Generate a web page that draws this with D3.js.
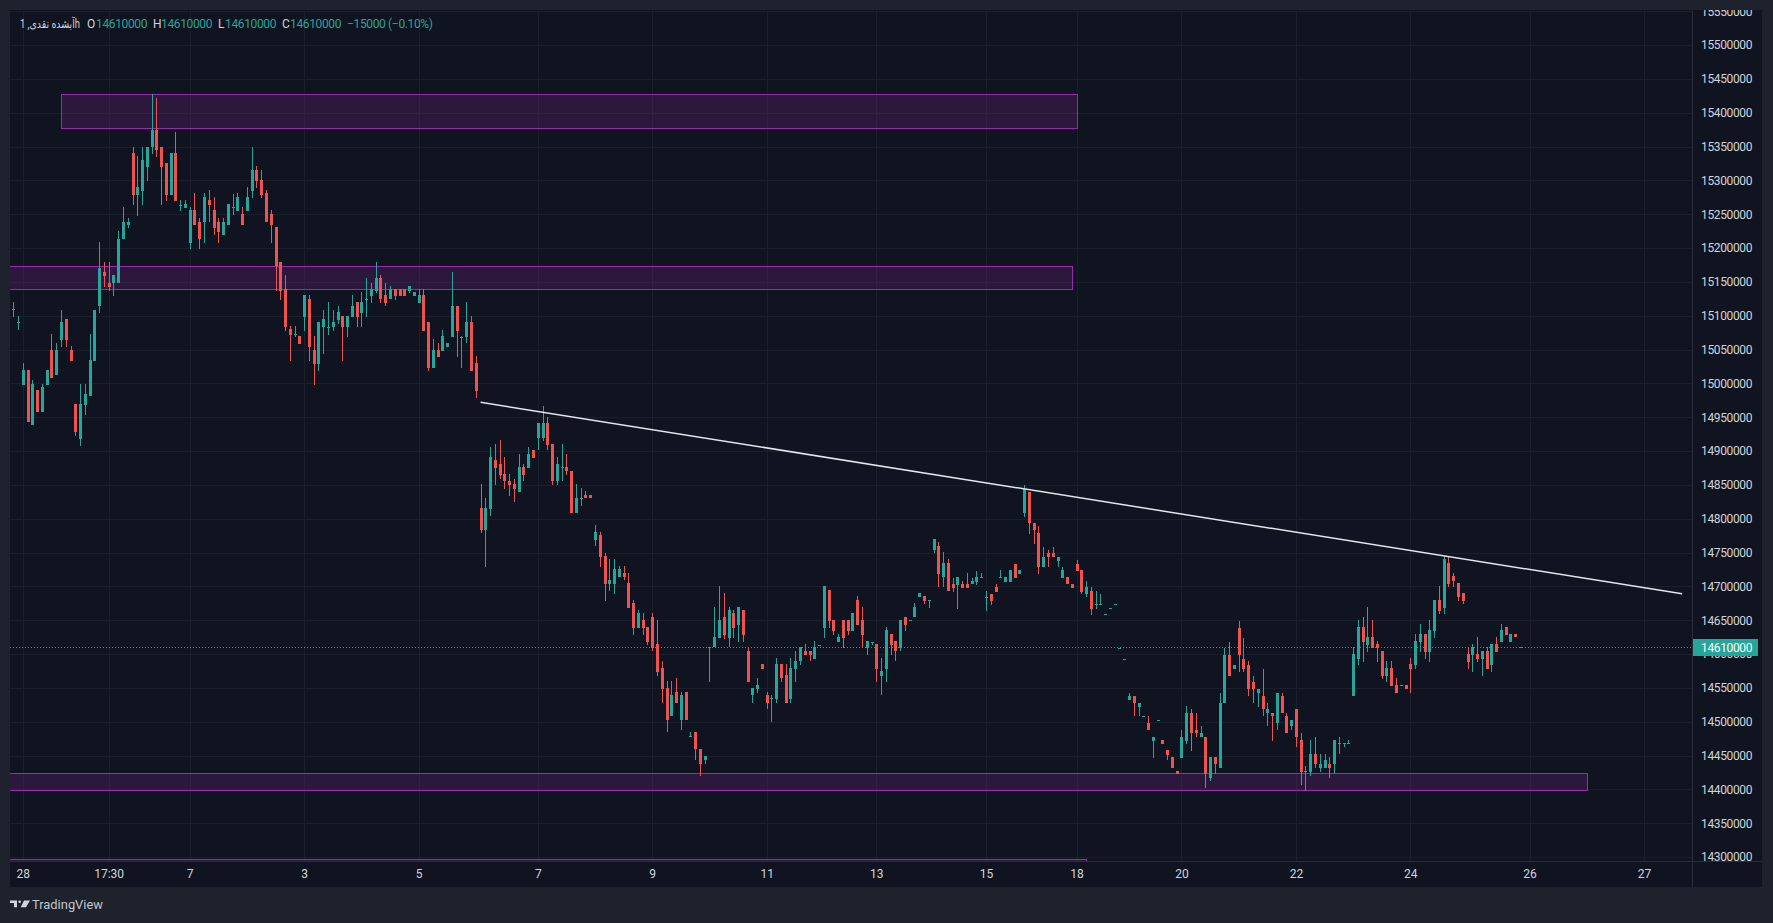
<!DOCTYPE html>
<html><head><meta charset="utf-8">
<script src="https://cdn.jsdelivr.net/npm/d3@7"></script>
<style>
html,body{margin:0;padding:0;background:#1e222d;overflow:hidden;}
svg{display:block;}
</style></head><body>
<svg id="c" width="1773" height="923"></svg>
<script>
// ---- DATA (1h candles) ----
const opens = [
15109000,15090000,14997000,15019000,14938000,14990000,14958000,14997000,15049000,15013000,
15064000,15095000,15049000,14969000,14917000,14968000,14982000,15033000,15114000,15164000,
15149000,15148000,15148000,15213000,15234000,15340000,15279000,15284000,15319000,15349000,
15375000,15350000,15325000,15279000,15340000,15264000,15259000,15208000,15256000,15239000,
15238000,15271000,15256000,15239000,15219000,15234000,15260000,15255000,15250000,15255000,
15284000,15315000,15300000,15281000,15250000,15231000,15180000,15139000,15080000,15073000,
15070000,15098000,15124000,15049000,15028000,15083000,15083000,15083000,15093000,15099000,
15083000,15098000,15120000,15104000,15124000,15129000,15137000,15155000,15130000,15124000,
15139000,15139000,15139000,15137000,15129000,15119000,15130000,15090000,15023000,15049000,
15048000,15054000,15069000,15115000,15069000,15069000,15090000,15030000,14816000,14783000,
14814000,14886000,14881000,14866000,14856000,14851000,14840000,14876000,14875000,14902000,
14919000,14919000,14941000,14910000,14855000,14876000,14876000,14870000,14809000,14831000,
14835000,14835000,14769000,14776000,14745000,14703000,14703000,14714000,14720000,14705000,
14675000,14638000,14650000,14640000,14655000,14615000,14579000,14550000,14509000,14544000,
14503000,14544000,14478000,14485000,14460000,14444000,14609000,14610000,14624000,14655000,
14624000,14661000,14643000,14665000,14604000,14539000,14548000,14585000,14539000,14535000,
14534000,14585000,14569000,14534000,14578000,14589000,14604000,14604000,14593000,14614000,
14638000,14695000,14650000,14618000,14650000,14650000,14634000,14680000,14650000,14609000,
14618000,14615000,14568000,14578000,14630000,14619000,14609000,14655000,14650000,14654000,
14684000,14686000,14680000,14754000,14760000,14714000,14735000,14703000,14702000,14703000,
14703000,14703000,14707000,14713000,14684000,14689000,14699000,14713000,14707000,14707000,
14733000,14718000,14808000,14839000,14793000,14779000,14728000,14749000,14749000,14738000,
14713000,14714000,14703000,14733000,14724000,14688000,14693000,14674000,14674000,14659000,
14668000,14674000,14609000,14592000,14532000,14538000,14522000,14508000,14498000,14472000,
14502000,14473000,14458000,14448000,14427000,14447000,14472000,14513000,14488000,14477000,
14478000,14417000,14448000,14432000,14527000,14599000,14578000,14639000,14592000,14584000,
14559000,14542000,14538000,14513000,14513000,14498000,14538000,14508000,14493000,14518000,
14473000,14427000,14426000,14452000,14432000,14432000,14437000,14437000,14468000,14468000,
14468000,14538000,14592000,14640000,14613000,14625000,14615000,14604000,14567000,14579000,
14554000,14554000,14554000,14585000,14584000,14618000,14629000,14603000,14634000,14680000,
14668000,14734000,14715000,14705000,14690000,14600000,14598000,14600000,14592000,14604000,
14584000,14615000,14618000,14640000,14618000,14630000,14610000];
const highs = [
15120000,15099000,15030000,15019000,15005000,14990000,14999000,15019000,15073000,15059000,
15109000,15095000,15055000,14969000,14999000,14999000,15073000,15109000,15209000,15180000,
15180000,15160000,15225000,15260000,15245000,15350000,15336000,15350000,15350000,15427000,
15422000,15350000,15325000,15340000,15371000,15271000,15271000,15261000,15281000,15245000,
15281000,15285000,15275000,15245000,15245000,15265000,15280000,15281000,15261000,15290000,
15350000,15321000,15315000,15285000,15256000,15231000,15180000,15160000,15084000,15084000,
15070000,15130000,15130000,15070000,15090000,15109000,15120000,15109000,15115000,15099000,
15099000,15130000,15120000,15135000,15155000,15149000,15180000,15160000,15149000,15144000,
15139000,15139000,15139000,15144000,15135000,15139000,15139000,15090000,15065000,15059000,
15079000,15059000,15164000,15115000,15070000,15120000,15099000,15040000,14851000,14831000,
14906000,14910000,14916000,14891000,14866000,14859000,14896000,14881000,14906000,14902000,
14941000,14967000,14950000,14910000,14891000,14910000,14896000,14870000,14851000,14845000,
14841000,14835000,14791000,14780000,14750000,14740000,14740000,14730000,14730000,14720000,
14680000,14665000,14661000,14640000,14661000,14650000,14590000,14560000,14560000,14565000,
14544000,14544000,14484000,14485000,14460000,14449000,14611000,14670000,14701000,14690000,
14670000,14665000,14670000,14665000,14609000,14550000,14565000,14585000,14544000,14539000,
14594000,14585000,14585000,14594000,14604000,14610000,14615000,14604000,14619000,14614000,
14701000,14695000,14650000,14630000,14650000,14650000,14661000,14686000,14670000,14619000,
14618000,14615000,14594000,14640000,14630000,14619000,14650000,14655000,14650000,14675000,
14690000,14686000,14680000,14770000,14766000,14751000,14740000,14713000,14714000,14708000,
14719000,14713000,14723000,14719000,14693000,14689000,14704000,14724000,14714000,14724000,
14733000,14724000,14850000,14839000,14793000,14789000,14758000,14754000,14758000,14743000,
14728000,14714000,14703000,14739000,14724000,14708000,14699000,14693000,14689000,14659000,
14668000,14674000,14609000,14592000,14543000,14538000,14527000,14508000,14508000,14478000,
14502000,14473000,14458000,14448000,14427000,14488000,14523000,14518000,14513000,14494000,
14478000,14448000,14448000,14543000,14609000,14618000,14584000,14649000,14624000,14589000,
14568000,14548000,14578000,14527000,14513000,14543000,14543000,14513000,14502000,14518000,
14483000,14434000,14473000,14478000,14452000,14452000,14448000,14473000,14478000,14468000,
14473000,14610000,14650000,14655000,14669000,14650000,14619000,14604000,14589000,14589000,
14564000,14554000,14554000,14594000,14629000,14644000,14629000,14650000,14680000,14700000,
14745000,14745000,14720000,14705000,14690000,14610000,14615000,14625000,14604000,14610000,
14615000,14625000,14644000,14640000,14629000,14630000,14610000];
const lows = [
15098000,15079000,14997000,14943000,14938000,14958000,14958000,14997000,15008000,15013000,
15054000,15054000,15033000,14922000,14907000,14953000,14982000,15033000,15104000,15143000,
15137000,15129000,15148000,15213000,15230000,15263000,15248000,15263000,15299000,15339000,
15335000,15263000,15270000,15279000,15270000,15255000,15259000,15198000,15234000,15198000,
15208000,15238000,15219000,15208000,15219000,15234000,15249000,15255000,15234000,15255000,
15274000,15289000,15274000,15238000,15208000,15137000,15123000,15078000,15033000,15069000,
15058000,15078000,15033000,14998000,15018000,15043000,15072000,15078000,15088000,15033000,
15069000,15098000,15083000,15083000,15098000,15119000,15134000,15119000,15114000,15124000,
15123000,15129000,15129000,15134000,15129000,15119000,15078000,15018000,15023000,15039000,
15048000,15054000,15069000,15039000,15023000,15059000,15018000,14978000,14779000,14729000,
14804000,14850000,14859000,14844000,14834000,14825000,14840000,14855000,14875000,14890000,
14901000,14915000,14901000,14850000,14850000,14855000,14865000,14809000,14809000,14819000,
14830000,14830000,14759000,14729000,14679000,14693000,14689000,14714000,14709000,14668000,
14628000,14638000,14628000,14613000,14604000,14568000,14528000,14484000,14509000,14528000,
14488000,14503000,14478000,14444000,14419000,14437000,14559000,14610000,14624000,14622000,
14610000,14624000,14618000,14618000,14559000,14528000,14543000,14578000,14518000,14499000,
14528000,14559000,14528000,14528000,14559000,14584000,14599000,14589000,14593000,14614000,
14624000,14638000,14628000,14618000,14609000,14628000,14634000,14643000,14609000,14599000,
14613000,14559000,14539000,14559000,14599000,14589000,14604000,14634000,14650000,14654000,
14684000,14674000,14668000,14749000,14699000,14699000,14693000,14692000,14667000,14698000,
14698000,14703000,14702000,14713000,14663000,14673000,14692000,14713000,14707000,14707000,
14713000,14718000,14803000,14778000,14763000,14718000,14728000,14728000,14743000,14728000,
14713000,14703000,14698000,14723000,14688000,14684000,14658000,14667000,14674000,14659000,
14668000,14674000,14609000,14592000,14532000,14508000,14508000,14508000,14487000,14447000,
14502000,14467000,14443000,14432000,14422000,14447000,14467000,14457000,14478000,14477000,
14402000,14412000,14422000,14432000,14527000,14567000,14578000,14573000,14573000,14538000,
14527000,14522000,14508000,14493000,14472000,14488000,14513000,14483000,14488000,14462000,
14407000,14397000,14419000,14432000,14426000,14432000,14417000,14422000,14452000,14462000,
14468000,14538000,14584000,14588000,14603000,14609000,14588000,14563000,14558000,14553000,
14542000,14554000,14548000,14542000,14578000,14603000,14592000,14588000,14623000,14659000,
14659000,14699000,14699000,14678000,14674000,14578000,14573000,14588000,14567000,14578000,
14573000,14603000,14618000,14628000,14618000,14625000,14610000];
const closes = [
15110000,15090000,15019000,14943000,14999000,14958000,14995000,15019000,15008000,15049000,
15090000,15064000,15033000,14928000,14969000,14984000,15034000,15109000,15170000,15158000,
15143000,15160000,15214000,15239000,15239000,15279000,15290000,15330000,15350000,15375000,
15345000,15320000,15279000,15340000,15270000,15264000,15265000,15256000,15234000,15213000,
15275000,15264000,15229000,15223000,15239000,15265000,15260000,15275000,15234000,15275000,
15315000,15299000,15279000,15238000,15234000,15173000,15137000,15083000,15072000,15073000,
15058000,15130000,15054000,15028000,15090000,15095000,15083000,15090000,15105000,15083000,
15099000,15115000,15098000,15120000,15124000,15139000,15155000,15124000,15119000,15139000,
15129000,15129000,15129000,15144000,15135000,15130000,15078000,15023000,15049000,15039000,
15070000,15059000,15115000,15078000,15069000,15090000,15018000,14989000,14783000,14816000,
14891000,14875000,14865000,14855000,14850000,14844000,14876000,14865000,14896000,14890000,
14941000,14941000,14909000,14855000,14881000,14876000,14870000,14809000,14831000,14831000,
14830000,14830000,14780000,14744000,14703000,14709000,14726000,14726000,14714000,14668000,
14638000,14661000,14638000,14618000,14609000,14574000,14548000,14503000,14539000,14528000,
14539000,14503000,14479000,14459000,14437000,14449000,14611000,14625000,14650000,14628000,
14665000,14638000,14670000,14628000,14559000,14550000,14554000,14578000,14528000,14535000,
14585000,14564000,14528000,14579000,14590000,14610000,14599000,14599000,14610000,14614000,
14701000,14649000,14634000,14625000,14624000,14634000,14661000,14643000,14628000,14619000,
14618000,14578000,14575000,14636000,14613000,14604000,14650000,14643000,14650000,14670000,
14690000,14678000,14680000,14770000,14718000,14735000,14693000,14698000,14714000,14698000,
14698000,14708000,14714000,14714000,14684000,14678000,14692000,14714000,14714000,14724000,
14713000,14724000,14844000,14793000,14783000,14728000,14743000,14743000,14743000,14743000,
14724000,14703000,14698000,14723000,14692000,14699000,14667000,14674000,14674000,14659000,
14668000,14674000,14609000,14592000,14538000,14527000,14527000,14508000,14487000,14478000,
14502000,14467000,14451000,14432000,14422000,14478000,14513000,14483000,14483000,14483000,
14422000,14448000,14437000,14527000,14599000,14567000,14584000,14598000,14578000,14548000,
14548000,14548000,14518000,14518000,14508000,14543000,14513000,14483000,14502000,14477000,
14426000,14427000,14452000,14437000,14437000,14444000,14432000,14473000,14468000,14468000,
14468000,14600000,14640000,14618000,14625000,14609000,14609000,14567000,14579000,14553000,
14542000,14554000,14548000,14578000,14619000,14629000,14603000,14635000,14680000,14663000,
14740000,14703000,14708000,14684000,14678000,14588000,14610000,14592000,14604000,14578000,
14615000,14603000,14635000,14628000,14629000,14625000,14610000];

const priceTicks = [14300000,14350000,14400000,14450000,14500000,14550000,14600000,14650000,
  14700000,14750000,14800000,14850000,14900000,14950000,15000000,15050000,15100000,15150000,
  15200000,15250000,15300000,15350000,15400000,15450000,15500000,15550000];
const timeTickIndex = [2,20,37,61,85,110,134,158,181,204,223,245,269,293,318,342];
const timeTickLabels = ["28","17:30","7","3","5","7","9","11","13","15","18","20","22","24","26","27"];

// zones: bar index range & price range
const zoneFrom   = [10, -6, -6, -6];
const zoneTo     = [223, 222, 330, 225];
const zoneTop    = [15427000, 15173000, 14424000, 14297000];
const zoneBottom = [15377000, 15140000, 14399000, 14250000];

// trend line: [barIndex, price]
const trendStart = [98, 14972000];
const trendEnd   = [350, 14689000];

const symbolTitle = "آبشده نقدی, 1h";
const lastPrice = 14610000;
const changeText = "\u221215000 (\u22120.10%)";

// ---- LAYOUT ----
const W = 1773, H = 923;
const pane = {l:10, t:10, r:1762, b:887};
const plot = {l:10, t:10, r:1692, b:861};
const C = {outer:"#1e222d", bg:"#0f1420", grid:"#1a1f2b", sep:"#2a2e39", text:"#d1d4dc",
  up:"#26a69a", down:"#ef5350", zs:"#9c27b0", zf:"rgba(156,39,176,0.2)"};
const FONT = "Roboto, 'Noto Sans', 'DejaVu Sans', sans-serif";

const svg = d3.select("#c");
svg.append("rect").attr("width",W).attr("height",H).attr("fill",C.outer);
svg.append("rect").attr("x",pane.l).attr("y",pane.t).attr("width",pane.r-pane.l)
   .attr("height",pane.b-pane.t).attr("fill",C.bg);

const defs = svg.append("defs");
defs.append("clipPath").attr("id","pc").append("rect")
  .attr("x",plot.l).attr("y",plot.t).attr("width",plot.r-plot.l).attr("height",plot.b-plot.t);
defs.append("clipPath").attr("id","ac").append("rect")
  .attr("x",plot.r).attr("y",plot.t).attr("width",pane.r-plot.r).attr("height",plot.b-plot.t);
defs.append("clipPath").attr("id","tc").append("rect")
  .attr("x",plot.l).attr("y",plot.b).attr("width",plot.r-plot.l).attr("height",pane.b-plot.b);

const n = opens.length;
const x = d3.scaleLinear().domain([0, n-1]).range([13.3, 1520]);
const y = d3.scaleLinear().domain([14300000, 15500000]).range([857, 45]);

const g = svg.append("g").attr("clip-path","url(#pc)");

// grid
g.append("g").selectAll("line").data(priceTicks).join("line")
  .attr("x1",plot.l).attr("x2",plot.r)
  .attr("y1",d=>Math.round(y(d))+0.5).attr("y2",d=>Math.round(y(d))+0.5)
  .attr("stroke",C.grid).attr("stroke-width",1);
g.append("g").selectAll("line").data(timeTickIndex).join("line")
  .attr("y1",plot.t).attr("y2",plot.b)
  .attr("x1",d=>Math.round(x(d))+0.5).attr("x2",d=>Math.round(x(d))+0.5)
  .attr("stroke",C.grid).attr("stroke-width",1);

// zones
const zones = zoneFrom.map((f,i)=>({f, t:zoneTo[i], top:zoneTop[i], bot:zoneBottom[i]}));
g.append("g").selectAll("rect").data(zones).join("rect")
  .attr("x",d=>Math.round(x(d.f))+0.5)
  .attr("width",d=>Math.round(x(d.t))-Math.round(x(d.f)))
  .attr("y",d=>Math.round(y(d.top))+0.5)
  .attr("height",d=>Math.round(y(d.bot))-Math.round(y(d.top)))
  .attr("fill",C.zf).attr("stroke",C.zs).attr("stroke-width",1);

// price line (dotted)
g.append("line").attr("x1",plot.l).attr("x2",plot.r)
  .attr("y1",Math.round(y(lastPrice))+0.5).attr("y2",Math.round(y(lastPrice))+0.5)
  .attr("stroke",C.up).attr("stroke-width",1).attr("stroke-dasharray","1,2");

// candles
const bars = d3.range(n).map(i=>({i,o:opens[i],h:highs[i],l:lows[i],c:closes[i]}));
const cg = g.append("g").attr("shape-rendering","crispEdges");
cg.selectAll("rect.w").data(bars).join("rect").attr("class","w")
  .attr("x",d=>Math.round(x(d.i))).attr("width",1)
  .attr("y",d=>Math.round(y(d.h)))
  .attr("height",d=>Math.max(1,Math.round(y(d.l))-Math.round(y(d.h))))
  .attr("fill",d=>d.c>=d.o?C.up:C.down);
cg.selectAll("rect.b").data(bars).join("rect").attr("class","b")
  .attr("x",d=>Math.round(x(d.i))-1).attr("width",3)
  .attr("y",d=>Math.round(y(Math.max(d.o,d.c))))
  .attr("height",d=>Math.max(1,Math.round(y(Math.min(d.o,d.c)))-Math.round(y(Math.max(d.o,d.c)))))
  .attr("fill",d=>d.c>=d.o?C.up:C.down);

// trend line
g.append("line")
  .attr("x1",x(trendStart[0])).attr("y1",y(trendStart[1]))
  .attr("x2",x(trendEnd[0])).attr("y2",y(trendEnd[1]))
  .attr("stroke","#e3e5ea").attr("stroke-width",1.5);

// separators
svg.append("line").attr("x1",plot.r+0.5).attr("x2",plot.r+0.5).attr("y1",pane.t).attr("y2",pane.b)
  .attr("stroke",C.sep);
svg.append("line").attr("x1",pane.l).attr("x2",pane.r).attr("y1",plot.b+0.5).attr("y2",plot.b+0.5)
  .attr("stroke",C.sep);

// right price axis
const yAxis = d3.axisRight(y).tickValues(priceTicks).tickSize(0).tickPadding(9)
  .tickFormat(d3.format("d"));
const ya = svg.append("g").attr("clip-path","url(#ac)")
  .append("g").attr("transform",`translate(${plot.r},0)`).call(yAxis);
ya.select(".domain").remove();
ya.attr("font-family",FONT).attr("font-size",12);
ya.selectAll("text").attr("fill",C.text).attr("letter-spacing","-0.35px");

// last price label
const ly = y(lastPrice);
svg.append("rect").attr("x",plot.r+1).attr("y",Math.round(ly)-8).attr("width",65).attr("height",17)
  .attr("fill",C.up);
svg.append("text").attr("x",plot.r+9).attr("y",ly).attr("dy","0.36em")
  .attr("font-family",FONT).attr("font-size",12).attr("letter-spacing","-0.35px")
  .attr("fill","#ffffff").text(d3.format("d")(lastPrice));

// time axis
const xAxis = d3.axisBottom(x).tickValues(timeTickIndex).tickSize(0).tickPadding(8)
  .tickFormat((d,i)=>timeTickLabels[i]);
const xa = svg.append("g").attr("clip-path","url(#tc)")
  .append("g").attr("transform",`translate(0,${plot.b})`).call(xAxis);
xa.select(".domain").remove();
xa.attr("font-family",FONT).attr("font-size",12);
xa.selectAll("text").attr("fill",C.text);

// legend
const lg = svg.append("g").attr("font-family",FONT).attr("font-size",12);
lg.append("text").attr("x",20).attr("y",28).attr("fill",C.text)
  .attr("textLength",60).attr("lengthAdjust","spacingAndGlyphs").text(symbolTitle);
const legendItems = [["O",87,96],["H",153,161],["L",218,225],["C",282,290]];
legendItems.forEach(([k,kx,vx])=>{
  lg.append("text").attr("x",kx).attr("y",28).attr("fill",C.text).text(k);
  lg.append("text").attr("x",vx).attr("y",28).attr("fill",C.up).attr("letter-spacing","-0.35px")
    .text(d3.format("d")(lastPrice));
});
lg.append("text").attr("x",347).attr("y",28).attr("fill",C.up).attr("letter-spacing","-0.35px")
  .text(changeText);

// TradingView logo
const logo = svg.append("g").attr("transform","translate(10,900.5)").attr("fill","#d1d4dc");
logo.append("path").attr("d","M0 0 H7 V6.8 H4 V2.6 H0 Z");
logo.append("circle").attr("cx",9.7).attr("cy",1.3).attr("r",1.3);
logo.append("path").attr("d","M14 0 H20 L16 6.8 H10.7 Z");
svg.append("text").attr("x",32).attr("y",908.5).attr("font-family",FONT).attr("font-size",12)
  .attr("fill","#c3c6ce").attr("textLength",71).attr("lengthAdjust","spacingAndGlyphs")
  .text("TradingView");
</script>
</body></html>
